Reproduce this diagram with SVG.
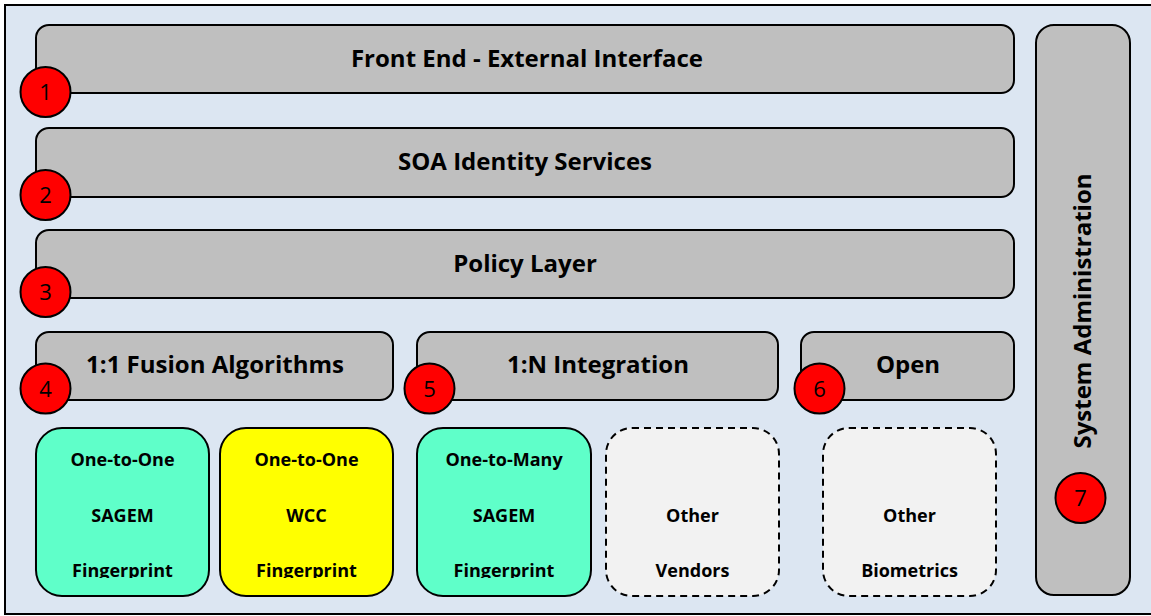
<svg xmlns="http://www.w3.org/2000/svg" width="1151" height="616" viewBox="0 0 1151 616">
<style>
.bar{fill:#BFBFBF;stroke:#000;stroke-width:2}
.title{font-family:"Open Sans","Liberation Sans",sans-serif;font-weight:bold;font-size:24px;fill:#000;text-anchor:middle}
.num{fill:#FF0000;stroke:#000;stroke-width:2}
.numt{font-family:"Open Sans","Liberation Sans",sans-serif;font-size:22px;fill:#000;text-anchor:middle}
.box{stroke:#000;stroke-width:2}
.dash{fill:#F2F2F2;stroke:#000;stroke-width:2;stroke-dasharray:7,5}
.bt{font-family:"Open Sans","Liberation Sans",sans-serif;font-weight:bold;font-size:18px;fill:#000;text-anchor:middle}
</style>
<defs>
<clipPath id="clip"><rect x="0" y="0" width="1151" height="578"/></clipPath>
</defs>
<rect x="5" y="5" width="1160" height="609" fill="#DCE6F2" stroke="#000" stroke-width="2"/>
<g id="frontend">
<rect class="bar" x="36" y="25" width="978" height="68" rx="13"/>
<text class="title" x="527" y="67">Front End - External Interface</text>
<circle class="num" cx="45.5" cy="92" r="25"/><text class="numt" x="45.5" y="100">1</text>
</g>
<g id="soa">
<rect class="bar" x="36" y="128" width="978" height="69" rx="13"/>
<text class="title" x="525" y="170">SOA Identity Services</text>
<circle class="num" cx="45.5" cy="195" r="25"/><text class="numt" x="45.5" y="203">2</text>
</g>
<g id="policy">
<rect class="bar" x="36" y="230" width="978" height="68" rx="13"/>
<text class="title" x="525" y="272">Policy Layer</text>
<circle class="num" cx="45.5" cy="292" r="25"/><text class="numt" x="45.5" y="300">3</text>
</g>
<g id="sysadmin">
<rect class="bar" x="1036" y="25" width="94" height="570" rx="18"/>
<text class="title" transform="translate(1091,311) rotate(-90)" x="0" y="0">System Administration</text>
<circle class="num" cx="1080.5" cy="498" r="25"/><text class="numt" x="1080.5" y="506">7</text>
</g>
<g id="fusion">
<rect class="bar" x="36" y="332" width="357" height="68" rx="13"/>
<text class="title" x="215" y="373">1:1 Fusion Algorithms</text>
<circle class="num" cx="45.5" cy="388.5" r="25"/><text class="numt" x="45.5" y="396.5">4</text>
</g>
<g id="integration">
<rect class="bar" x="417" y="332" width="361" height="68" rx="13"/>
<text class="title" x="598" y="373">1:N Integration</text>
<circle class="num" cx="429.5" cy="388.5" r="25"/><text class="numt" x="429.5" y="396.5">5</text>
</g>
<g id="open">
<rect class="bar" x="801" y="332" width="213" height="68" rx="13"/>
<text class="title" x="908" y="373">Open</text>
<circle class="num" cx="819.5" cy="388.5" r="25"/><text class="numt" x="819.5" y="396.5">6</text>
</g>
<g id="sagem11">
<rect class="box" x="36" y="428" width="173" height="168" rx="26" fill="#5FFFC9"/>
<text class="bt" x="122.5" y="466">One-to-One</text>
<text class="bt" x="122.5" y="522">SAGEM</text>
<text class="bt" x="122.5" y="577" clip-path="url(#clip)">Fingerprint</text>
</g>
<g id="wcc">
<rect class="box" x="220" y="428" width="173" height="168" rx="26" fill="#FFFF00"/>
<text class="bt" x="306.5" y="466">One-to-One</text>
<text class="bt" x="306.5" y="522">WCC</text>
<text class="bt" x="306.5" y="577" clip-path="url(#clip)">Fingerprint</text>
</g>
<g id="sagem1n">
<rect class="box" x="417" y="428" width="174" height="168" rx="26" fill="#5FFFC9"/>
<text class="bt" x="504" y="466">One-to-Many</text>
<text class="bt" x="504" y="522">SAGEM</text>
<text class="bt" x="504" y="577" clip-path="url(#clip)">Fingerprint</text>
</g>
<g id="vendors">
<rect class="dash" x="606" y="428" width="173" height="168" rx="26"/>
<text class="bt" x="692.5" y="522">Other</text>
<text class="bt" x="692.5" y="577" clip-path="url(#clip)">Vendors</text>
</g>
<g id="biometrics">
<rect class="dash" x="823" y="428" width="173" height="168" rx="26"/>
<text class="bt" x="909.5" y="522">Other</text>
<text class="bt" x="909.5" y="577" clip-path="url(#clip)">Biometrics</text>
</g>
<g id="connectors"></g>
</svg>
